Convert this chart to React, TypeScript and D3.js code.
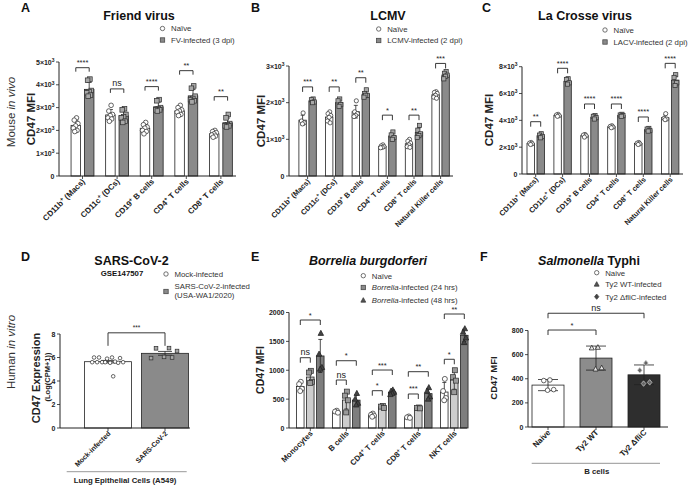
import React from "react";
import * as d3 from "d3";

const FONT = "'Liberation Sans', Arial, Helvetica, sans-serif";

// ---------------- Panel A: Friend virus ----------------
const aCategories = ["CD11b⁺ (Macs)", "CD11c⁺ (DCs)", "CD19⁺ B cells", "CD4⁺ T cells", "CD8⁺ T cells"];
const aNaive = [
  [2550, 2450, 2300, 2200, 2100, 2000, 1950],
  [3100, 2850, 2700, 2650, 2550, 2500, 2400],
  [2350, 2250, 2150, 2100, 2000, 1950, 1850],
  [3100, 3000, 2900, 2850, 2800, 2700, 2650],
  [2000, 1950, 1900, 1850, 1800, 1750, 1700],
];
const aInfected = [
  [4250, 4200, 3750, 3700, 3650, 3550, 3500],
  [2950, 2900, 2700, 2600, 2550, 2400, 2350],
  [3350, 3300, 3000, 2950, 2900, 2900, 2850],
  [3950, 3850, 3500, 3400, 3350, 3300, 3250],
  [2700, 2550, 2300, 2250, 2200, 2200, 2150],
];
const aSignif = ["****", "ns", "****", "**", "**"];
const aBracketLevels = [4750, 3820, 3920, 4620, 3480];
const aTicks = [0, 1000, 2000, 3000, 4000, 5000];

// ---------------- Panel B: LCMV ----------------
const bCategories = ["CD11b⁺ (Macs)", "CD11c⁺ (DCs)", "CD19⁺ B cells", "CD4⁺ T cells", "CD8⁺ T cells", "Natural Killer cells"];
const bNaive = [
  [1720, 1500, 1450, 1420],
  [1750, 1700, 1650, 1600, 1500, 1450],
  [2050, 1750, 1700, 1650, 1620],
  [850, 820, 800, 780, 770],
  [1000, 950, 900, 850, 800, 780],
  [2300, 2280, 2250, 2200, 2150, 2120],
];
const bInfected = [
  [2100, 2080, 2020, 2000],
  [2100, 2050, 1950, 1900],
  [2350, 2250, 2200, 2200, 2150],
  [1200, 1120, 1050, 1000],
  [1380, 1250, 1150, 1100, 1050],
  [2850, 2800, 2750, 2720, 2650],
];
const bSignif = ["***", "**", "**", "*", "**", "***"];
const bBracketLevels = [2430, 2430, 2680, 1660, 1660, 3070];
const bTicks = [0, 1000, 2000, 3000];

// ---------------- Panel C: La Crosse virus ----------------
const cCategories = bCategories;
const cNaive = [
  [2350, 2300, 2250, 2200],
  [4450, 4400, 4350, 4300],
  [2950, 2900, 2850, 2750],
  [3600, 3550, 3500, 3450],
  [2350, 2300, 2250, 2200],
  [4500, 4150, 4100, 4050],
];
const cInfected = [
  [3000, 2900, 2800, 2700],
  [7100, 7050, 6800, 6700],
  [4350, 4300, 4200, 4100],
  [4450, 4400, 4350, 4300],
  [3400, 3350, 3250, 3200],
  [7400, 7200, 6800, 6600],
];
const cSignif = ["**", "****", "****", "****", "****", "****"];
const cBracketLevels = [3900, 7880, 5220, 5220, 4250, 8250];
const cTicks = [0, 2000, 4000, 6000, 8000];

// ---------------- Panel D: SARS-CoV-2 ----------------
const dCategories = ["Mock-infected", "SARS-CoV-2"];
const dMock = [6.0, 6.0, 5.95, 5.9, 6.0, 5.65, 5.6, 5.6, 5.55, 5.6, 5.55, 5.6, 5.6, 4.4];
const dSars = [6.8, 6.78, 6.55, 6.05, 5.95, 6.0];
const dTicks = [0, 2, 4, 6, 8];

// ---------------- Panel E: Borrelia ----------------
const eCategories = ["Monocytes", "B cells", "CD4⁺ T cells", "CD8⁺ T cells", "NKT cells"];
const eNaive = [
  [800, 760, 680, 640],
  [300, 285, 265],
  [250, 230, 215, 195],
  [200, 185, 175],
  [850, 640, 520, 480],
];
const e24 = [
  [990, 960, 800, 780],
  [630, 560, 480, 270],
  [380, 370, 345],
  [355, 345, 340],
  [1000, 880, 820, 620],
];
const e48 = [
  [1640, 1280, 1050, 1020],
  [600, 500, 430, 400],
  [660, 640, 620, 600, 580],
  [700, 640, 540, 500],
  [1720, 1660, 1560, 1480],
];
const eSignif24 = ["ns", "ns", "*", "***", "*"];
const eSignif48 = ["*", "*", "***", "**", "**"];
const eLevels24 = [1217, 831, 646, 589, 1190];
const eLevels48 = [1870, 1165, 1004, 975, 1974];
const eTicks = [0, 500, 1000, 1500, 2000];

// ---------------- Panel F: Salmonella ----------------
const fCategories = ["Naive", "Ty2 WT", "Ty2 ΔfliC"];
const fNaive = [390, 385, 310, 305];
const fWT = [660, 655, 490, 480];
const fFliC = [530, 470, 370, 360];
const fTicks = [0, 200, 400, 600, 800];

type Shape = "circle" | "square" | "triangle" | "diamond";

function Marker({ shape, x, y, s, fill, stroke, sw = 0.75 }: { shape: Shape; x: number; y: number; s: number; fill: string; stroke: string; sw?: number }) {
  if (shape === "circle") return <circle cx={x} cy={y} r={s / 2} fill={fill} stroke={stroke} strokeWidth={sw} />;
  if (shape === "square") return <rect x={x - s / 2} y={y - s / 2} width={s} height={s} fill={fill} stroke={stroke} strokeWidth={sw} />;
  if (shape === "triangle")
    return <path d={`M${x},${y - s * 0.6}L${x + s * 0.55},${y + s * 0.42}L${x - s * 0.55},${y + s * 0.42}Z`} fill={fill} stroke={stroke} strokeWidth={sw} />;
  return <path d={`M${x},${y - s * 0.6}L${x + s * 0.5},${y}L${x},${y + s * 0.6}L${x - s * 0.5},${y}Z`} fill={fill} stroke={stroke} strokeWidth={sw} />;
}

function supText(label: string) {
  const parts = label.split("⁺");
  const out: React.ReactNode[] = [];
  parts.forEach((p, i) => {
    if (i > 0) {
      out.push(<tspan key={"s" + i} dy={-2.8} fontSize="70%">+</tspan>);
      out.push(<tspan key={"t" + i} dy={2.8}>{p}</tspan>);
    } else out.push(<tspan key={"t" + i}>{p}</tspan>);
  });
  return out;
}

function sciFmt(v: number) {
  if (v === 0) return <tspan>0</tspan>;
  return (
    <>
      <tspan>{`${v / 1000}×10`}</tspan>
      <tspan dy={-2.8} fontSize="70%">3</tspan>
    </>
  );
}

interface SeriesDef { values: (number[] | null)[]; fill: string; shape: Shape; mFill: string; mStroke: string; offset: number; }
interface BracketDef { g1: number; s1: number; g2: number; s2: number; level: number; label: string; }
interface PanelDef {
  cats: string[]; series: SeriesDef[];
  xAxis: number; xEnd: number; y0: number; yTop: number; yMax: number; ticks: number[];
  tickFmt: (v: number) => React.ReactNode; center0: number; step: number; barW: number;
  mSize: number; brackets: BracketDef[]; err: "sd" | "sem"; labelSize: number; capW: number;
  spread: number; sigSize: number; bracketDrop: number;
}

function Panel({ p }: { p: PanelDef }) {
  const y = d3.scaleLinear().domain([0, p.yMax]).range([p.y0, p.yTop]);
  const xc = d3.scaleLinear().domain([0, 1]).range([p.center0, p.center0 + p.step]);
  const bx = (g: number, s: number) => xc(g) + p.series[s].offset;
  const els: React.ReactNode[] = [];
  p.series.forEach((s, si) => {
    s.values.forEach((vals, gi) => {
      if (!vals) return;
      const m = d3.mean(vals) as number;
      const sd = d3.deviation(vals) || 0;
      const e = p.err === "sd" ? sd : sd / Math.sqrt(vals.length);
      const cx = bx(gi, si);
      els.push(
        <rect key={`b${si}-${gi}`} x={cx - p.barW / 2} y={y(m)} width={p.barW} height={p.y0 - y(m)} fill={s.fill} stroke="#222" strokeWidth={0.8} />
      );
      els.push(
        <g key={`e${si}-${gi}`} stroke="#222" strokeWidth={0.8}>
          <line x1={cx} x2={cx} y1={y(m + e)} y2={y(Math.max(0, m - e))} />
          <line x1={cx - p.capW / 2} x2={cx + p.capW / 2} y1={y(m + e)} y2={y(m + e)} />
          <line x1={cx - p.capW / 2} x2={cx + p.capW / 2} y1={y(m - e)} y2={y(m - e)} />
        </g>
      );
      vals.forEach((v, i) => {
        const off = ((((i + 1) * 0.618034) % 1) - 0.5) * 2 * p.spread;
        els.push(<Marker key={`p${si}-${gi}-${i}`} shape={s.shape} x={cx + off} y={y(v)} s={p.mSize} fill={s.mFill} stroke={s.mStroke} />);
      });
    });
  });
  return (
    <g fontFamily={FONT}>
      {els}
      <line x1={p.xAxis} x2={p.xAxis} y1={p.y0} y2={y(p.yMax)} stroke="#222" strokeWidth={1} />
      <line x1={p.xAxis} x2={p.xEnd} y1={p.y0} y2={p.y0} stroke="#222" strokeWidth={1} />
      {p.ticks.map((t) => (
        <g key={"t" + t}>
          <line x1={p.xAxis - 3} x2={p.xAxis} y1={y(t)} y2={y(t)} stroke="#222" strokeWidth={0.8} />
          <text x={p.xAxis - 4.5} y={y(t) + 2.5} fontSize={7} fontWeight={700} textAnchor="end" fill="#222">{p.tickFmt(t)}</text>
        </g>
      ))}
      {p.cats.map((c, i) => (
        <g key={"c" + i}>
          <line x1={xc(i)} x2={xc(i)} y1={p.y0} y2={p.y0 + 3} stroke="#222" strokeWidth={0.8} />
          <text transform={`translate(${xc(i) + 3},${p.y0 + 6}) rotate(-45)`} fontSize={p.labelSize} fontWeight={700} textAnchor="end" fill="#222">
            {supText(c)}
          </text>
        </g>
      ))}
      {p.brackets.map((b, i) => {
        const x1 = bx(b.g1, b.s1);
        const x2 = bx(b.g2, b.s2);
        const yy = y(b.level);
        return (
          <g key={"br" + i}>
            <path d={`M${x1},${yy + p.bracketDrop}V${yy}H${x2}V${yy + p.bracketDrop}`} fill="none" stroke="#222" strokeWidth={0.9} />
            <text x={(x1 + x2) / 2} y={yy - 2.5} fontSize={b.label === "ns" ? p.sigSize + 1.5 : p.sigSize} textAnchor="middle" fill="#222">{b.label}</text>
          </g>
        );
      })}
    </g>
  );
}

const GRAY = "#8a8a8a";
const naiveS = (vals: (number[] | null)[], offset: number): SeriesDef => ({ values: vals, fill: "#fff", shape: "circle", mFill: "#fff", mStroke: "#333", offset });
const infS = (vals: (number[] | null)[], offset: number): SeriesDef => ({ values: vals, fill: GRAY, shape: "square", mFill: "#a8a8a8", mStroke: "#333", offset });

const pairBrackets = (levels: number[], labels: string[]): BracketDef[] =>
  levels.map((l, i) => ({ g1: i, s1: 0, g2: i, s2: 1, level: l, label: labels[i] }));

const panelA: PanelDef = {
  cats: aCategories, series: [naiveS(aNaive, -6.7), infS(aInfected, 6.7)],
  xAxis: 59, xEnd: 236, y0: 176, yTop: 62, yMax: 5000, ticks: aTicks, tickFmt: sciFmt,
  center0: 82.5, step: 34.6, barW: 9.5, mSize: 4.6, brackets: pairBrackets(aBracketLevels, aSignif),
  err: "sd", labelSize: 8, capW: 5, spread: 3, sigSize: 7.5, bracketDrop: 4,
};
const panelB: PanelDef = {
  cats: bCategories, series: [naiveS(bNaive, -5), infS(bInfected, 5)],
  xAxis: 289, xEnd: 453, y0: 176, yTop: 66, yMax: 3000, ticks: bTicks, tickFmt: sciFmt,
  center0: 307.6, step: 26.6, barW: 7.4, mSize: 4.2, brackets: pairBrackets(bBracketLevels, bSignif),
  err: "sd", labelSize: 7.4, capW: 4, spread: 2.2, sigSize: 7.5, bracketDrop: 5,
};
const panelC: PanelDef = {
  cats: cCategories, series: [naiveS(cNaive, -5), infS(cInfected, 5)],
  xAxis: 522, xEnd: 683, y0: 174, yTop: 66.7, yMax: 8000, ticks: cTicks, tickFmt: sciFmt,
  center0: 535.7, step: 26.9, barW: 7.4, mSize: 4.2, brackets: pairBrackets(cBracketLevels, cSignif),
  err: "sd", labelSize: 7.4, capW: 4, spread: 2.2, sigSize: 7.5, bracketDrop: 5,
};
const panelD: PanelDef = {
  cats: dCategories,
  series: [naiveS([dMock, null], 0), infS([null, dSars], 0)],
  xAxis: 60, xEnd: 190, y0: 428, yTop: 334, yMax: 8, ticks: dTicks, tickFmt: (v) => <tspan>{v}</tspan>,
  center0: 108, step: 57, barW: 47, mSize: 3.6, brackets: [{ g1: 0, s1: 0, g2: 1, s2: 1, level: 8.1, label: "***" }],
  err: "sem", labelSize: 7, capW: 14, spread: 17, sigSize: 6.5, bracketDrop: 13,
};
const panelE: PanelDef = {
  cats: eCategories,
  series: [
    naiveS(eNaive, -10),
    { values: e24, fill: "#cdcdcd", shape: "square", mFill: "#9a9a9a", mStroke: "#333", offset: 0 },
    { values: e48, fill: "#7e7e7e", shape: "triangle", mFill: "#444", mStroke: "#222", offset: 10 },
  ],
  xAxis: 289, xEnd: 467, y0: 428, yTop: 312.5, yMax: 2000, ticks: eTicks, tickFmt: (v) => <tspan>{v}</tspan>,
  center0: 310.3, step: 36, barW: 7.5, mSize: 5, brackets: [
    ...eLevels24.map((l, i) => ({ g1: i, s1: 0, g2: i, s2: 1, level: l, label: eSignif24[i] })),
    ...eLevels48.map((l, i) => ({ g1: i, s1: 0, g2: i, s2: 2, level: l, label: eSignif48[i] })),
  ],
  err: "sd", labelSize: 7.8, capW: 4, spread: 2.3, sigSize: 7.5, bracketDrop: 5,
};
const panelF: PanelDef = {
  cats: fCategories,
  series: [
    naiveS([fNaive, null, null], 0),
    { values: [null, fWT, null], fill: "#8c8c8c", shape: "triangle", mFill: "#e6e6e6", mStroke: "#222", offset: 0 },
    { values: [null, null, fFliC], fill: "#2e2e2e", shape: "diamond", mFill: "#666", mStroke: "#ccc", offset: 0 },
  ],
  xAxis: 528, xEnd: 668, y0: 427, yTop: 330.5, yMax: 800, ticks: fTicks, tickFmt: (v) => <tspan>{v}</tspan>,
  center0: 548, step: 48, barW: 32, mSize: 4.6, brackets: [
    { g1: 0, s1: 0, g2: 1, s2: 1, level: 804, label: "*" },
    { g1: 0, s1: 0, g2: 2, s2: 2, level: 943, label: "ns" },
  ],
  err: "sd", labelSize: 8, capW: 20, spread: 8, sigSize: 7.5, bracketDrop: 5,
};

function YTitle({ x, y, size, bold = true, children }: { x: number; y: number; size: number; bold?: boolean; children: React.ReactNode }) {
  return (
    <text transform={`translate(${x},${y}) rotate(-90)`} dy="0.35em" textAnchor="middle" fontSize={size} fontWeight={bold ? 700 : 400} fill="#222" fontFamily={FONT}>
      {children}
    </text>
  );
}

const LEG = 7.8;

function LegendItem({ shape, x, y, fill, stroke, children }: { shape: Shape; x: number; y: number; fill: string; stroke: string; children: React.ReactNode }) {
  return (
    <g>
      <Marker shape={shape} x={x} y={y} s={4.4} fill={fill} stroke={stroke} />
      <text x={x + 8.5} y={y + 2.9} fontSize={LEG} fill="#333" fontFamily={FONT}>{children}</text>
    </g>
  );
}

export default function App() {
  const letter = (t: string, x: number, y: number) => (
    <text x={x} y={y} fontSize={12.5} fontWeight={700} fill="#111" fontFamily={FONT}>{t}</text>
  );
  const title = (x: number, y: number, children: React.ReactNode, italic = false) => (
    <text x={x} y={y} fontSize={12.5} fontWeight={700} textAnchor="middle" fill="#111" fontStyle={italic ? "italic" : "normal"} fontFamily={FONT}>{children}</text>
  );
  return (
    <svg width={696} height={487} style={{ position: "absolute", left: 0, top: 0, display: "block" }}>
      <rect width={696} height={487} fill="#fff" />
      {letter("A", 21, 12)}
      {letter("B", 251, 12)}
      {letter("C", 482, 12)}
      {letter("D", 21, 261)}
      {letter("E", 251, 261)}
      {letter("F", 480, 261)}

      {title(139, 19.5, "Friend virus")}
      {title(388, 19.5, "LCMV")}
      {title(585, 20, "La Crosse virus")}
      {title(131.5, 265, "SARS-CoV-2")}
      <text x={122} y={276} fontSize={7.8} fontWeight={700} textAnchor="middle" fill="#111" fontFamily={FONT}>GSE147507</text>
      {title(368, 265, "Borrelia burgdorferi", true)}
      <text x={589} y={265} fontSize={12.5} fontWeight={700} textAnchor="middle" fill="#111" fontFamily={FONT}>
        <tspan fontStyle="italic">Salmonella</tspan> Typhi
      </text>

      <LegendItem shape="circle" x={162.5} y={28.5} fill="#fff" stroke="#444">Naïve</LegendItem>
      <LegendItem shape="square" x={162.5} y={40} fill={GRAY} stroke="#444">FV-infected (3 dpi)</LegendItem>
      <LegendItem shape="circle" x={378.7} y={29} fill="#fff" stroke="#444">Naïve</LegendItem>
      <LegendItem shape="square" x={378.7} y={40.5} fill={GRAY} stroke="#444">LCMV-infected (2 dpi)</LegendItem>
      <LegendItem shape="circle" x={605} y={30} fill="#fff" stroke="#444">Naïve</LegendItem>
      <LegendItem shape="square" x={605} y={42} fill={GRAY} stroke="#444">LACV-infected (2 dpi)</LegendItem>

      <LegendItem shape="circle" x={166} y={274} fill="#fff" stroke="#444">Mock-infected</LegendItem>
      <Marker shape="square" x={166} y={291.5} s={4.4} fill={GRAY} stroke="#444" />
      <text x={174.5} y={289} fontSize={LEG} fill="#333" fontFamily={FONT}>SARS-CoV-2-infected</text>
      <text x={174.5} y={298} fontSize={LEG} fill="#333" fontFamily={FONT}>(USA-WA1/2020)</text>

      <LegendItem shape="circle" x={363.3} y={275.7} fill="#fff" stroke="#444">Naïve</LegendItem>
      <LegendItem shape="square" x={363.3} y={287.5} fill={GRAY} stroke="#444">
        <tspan fontStyle="italic">Borrelia</tspan>-infected (24 hrs)
      </LegendItem>
      <LegendItem shape="triangle" x={363.3} y={300.3} fill="#555" stroke="#333">
        <tspan fontStyle="italic">Borrelia</tspan>-infected (48 hrs)
      </LegendItem>

      <LegendItem shape="circle" x={596.7} y={272.7} fill="#fff" stroke="#444">Naive</LegendItem>
      <LegendItem shape="triangle" x={596.7} y={284.3} fill="#555" stroke="#333">Ty2 WT-infected</LegendItem>
      <LegendItem shape="diamond" x={596.7} y={296.7} fill="#444" stroke="#444">Ty2 ΔfliC-infected</LegendItem>

      <text transform="translate(11,112) rotate(-90)" dy="0.35em" textAnchor="middle" fontSize={11.5} fill="#333" fontFamily={FONT}>
        Mouse <tspan fontStyle="italic">in vivo</tspan>
      </text>
      <text transform="translate(11,352) rotate(-90)" dy="0.35em" textAnchor="middle" fontSize={11.5} fill="#333" fontFamily={FONT}>
        Human <tspan fontStyle="italic">in vitro</tspan>
      </text>
      <YTitle x={31} y={119} size={11.5}>CD47 MFI</YTitle>
      <YTitle x={261} y={121} size={11.5}>CD47 MFI</YTitle>
      <YTitle x={489} y={120} size={11.5}>CD47 MFI</YTitle>
      <YTitle x={36} y={378} size={11}>CD47 Expression</YTitle>
      <YTitle x={47} y={377} size={7.5}>(Log(CPM+1))</YTitle>
      <YTitle x={260} y={370} size={10.5}>CD47 MFI</YTitle>
      <YTitle x={494} y={378} size={9.5}>CD47 MFI</YTitle>

      <Panel p={panelA} />
      <Panel p={panelB} />
      <Panel p={panelC} />
      <Panel p={panelD} />
      <Panel p={panelE} />
      <Panel p={panelF} />

      <line x1={66.7} x2={186.7} y1={471.7} y2={471.7} stroke="#999" strokeWidth={1} />
      <text x={125} y={483} fontSize={7.8} fontWeight={700} textAnchor="middle" fill="#222" fontFamily={FONT}>Lung Epithelial Cells (A549)</text>
      <line x1={531.7} x2={660} y1={463.3} y2={463.3} stroke="#aaa" strokeWidth={1.2} />
      <text x={596.7} y={474} fontSize={7.8} fontWeight={700} textAnchor="middle" fill="#222" fontFamily={FONT}>B cells</text>
    </svg>
  );
}
